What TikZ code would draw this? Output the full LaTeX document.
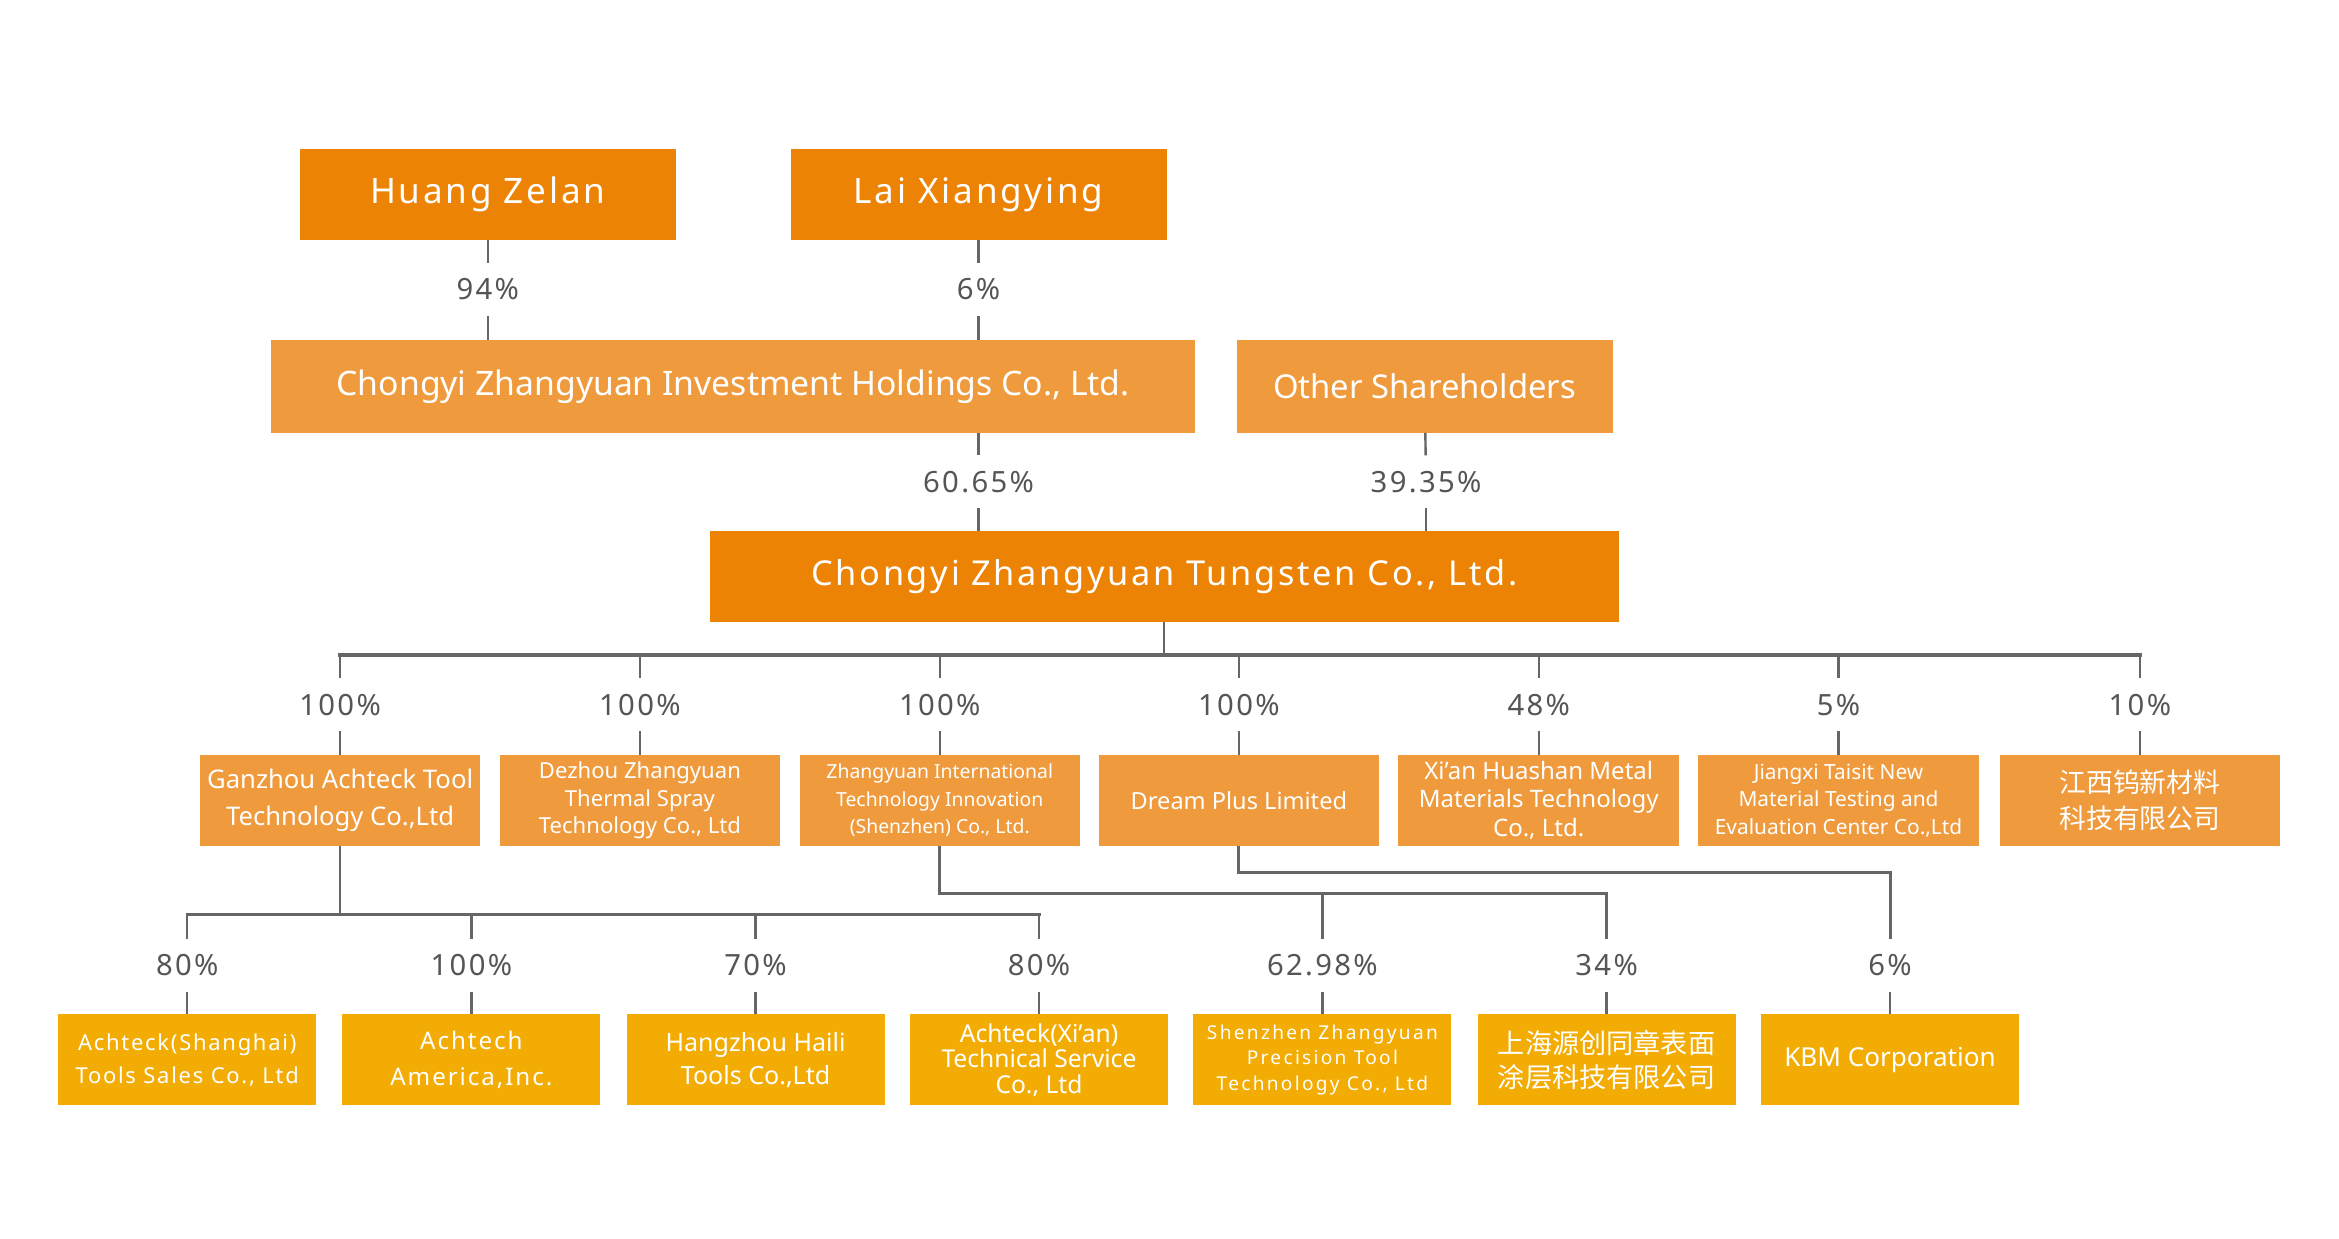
\documentclass[tikz,border=0pt]{standalone}
\usepackage{fontspec}
\setmainfont{Noto Sans}
\newfontfamily\cjk{Noto Sans CJK SC}
\newfontfamily\spaced[LetterSpace=8]{Noto Sans}
\newfontfamily\spacedB[LetterSpace=12]{Noto Sans}
\definecolor{darkor}{HTML}{EC8304}
\definecolor{lightor}{HTML}{EF9A3C}
\definecolor{yellowor}{HTML}{F2AC04}
\definecolor{linegray}{HTML}{666666}
\definecolor{pctgray}{HTML}{555555}
\newcommand{\fs}[2]{\fontsize{#1}{#2}\selectfont}
\begin{document}
\begin{tikzpicture}[x=1pt,y=-1pt,
  basebox/.style={inner sep=0pt, text=white, align=center, minimum height=61},
  boxA/.style={basebox, fill=darkor},
  boxB/.style={basebox, fill=lightor},
  boxC/.style={basebox, fill=yellowor, minimum width=173},
  boxD/.style={boxB, minimum width=188},
  pct/.style={inner sep=0pt, minimum height=35, text=pctgray, font=\spaced\fs{19.6}{22}},
  conn/.style={draw=linegray, line width=1.6},
  bus/.style={draw=linegray, line width=2.2}]
\useasboundingbox (0,0) rectangle (1568,830);
\fill[white] (0,0) rectangle (1568,830);

% Row 1
\node[boxA, minimum width=252, font=\spaced\fs{23.5}{27}] (hz) at (327,130.5) {Huang Zelan};
\node[boxA, minimum width=252, font=\spaced\fs{23.5}{27}] (lx) at (656,130.5) {Lai Xiangying};

% Row 2
\node[boxB, minimum width=619, minimum height=62, font=\fs{22.6}{26}] (inv) at (491.5,259) {Chongyi Zhangyuan Investment Holdings Co., Ltd.};
\node[boxB, minimum width=252, minimum height=62, font=\fs{22}{26}] (oth) at (955,259) {Other Shareholders};

% Row 3
\node[boxA, minimum width=609, font=\spaced\fs{23}{27}] (tung) at (780.5,386.5) {Chongyi Zhangyuan Tungsten Co., Ltd.};

% Labels row 1-2
\node[pct] (p94) at (327,194) {94\%};
\node[pct] (p6a) at (656,194) {6\%};
\draw[conn] (hz) -- (p94);
\draw[conn] (p94) -- (p94 |- inv.north);
\draw[conn] (lx) -- (p6a);
\draw[conn] (p6a) -- (p6a |- inv.north);

% Labels row 2-3
\node[pct] (p6065) at (656,323) {60.65\%};
\node[pct] (p3935) at (956,323) {39.35\%};
\draw[conn] (p6065 |- inv.south) -- (p6065);
\draw[conn] (p6065) -- (p6065 |- tung.north);
\draw[conn] (oth) -- (p3935);
\draw[conn] (p3935) -- (p3935 |- tung.north);

% Row 4 boxes
\node[boxD, font=\fs{17.2}{25}] (gz) at (228,536.5) {Ganzhou Achteck Tool\\Technology Co.,Ltd};
\node[boxD, font=\fs{14.8}{18.5}] (dz) at (429,536.5) {Dezhou Zhangyuan\\Thermal Spray\\Technology Co., Ltd};
\node[boxD, font=\fs{13}{18.5}] (zi) at (630,536.5) {Zhangyuan International\\Technology Innovation\\(Shenzhen) Co., Ltd.};
\node[boxD, font=\fs{15.8}{20}] (dp) at (830.5,536.5) {Dream Plus Limited};
\node[boxD, font=\fs{16.1}{19}] (xa) at (1031.5,536.5) {Xi’an Huashan Metal\\Materials Technology\\Co., Ltd.};
\node[boxD, font=\fs{14}{18.5}] (jx) at (1232.5,536.5) {Jiangxi Taisit New\\Material Testing and\\Evaluation Center Co.,Ltd};
\node[boxD, font=\cjk\fs{18}{24}] (jxw) at (1434.5,536.5) {江西钨新材料\\科技有限公司};

% Bus row 3-4
\coordinate (busL) at (228,439);
\coordinate (busR) at (1435,439);
\draw[conn] (tung) -- (tung.south |- busL);
\draw[bus, line cap=rect] (busL) -- (busR);
\foreach \n/\x/\t in {gz/228/100\%, dz/429/100\%, zi/630/100\%, dp/830.5/100\%, xa/1031.5/48\%, jx/1232.5/5\%, jxw/1434.5/10\%}{
  \node[pct] (l\n) at (\x,472.5) {\t};
  \draw[conn] (l\n |- busL) -- (l\n);
  \draw[conn] (l\n) -- (\n);
}

% Row 5 boxes
\node[boxC, font=\spaced\fs{14.7}{22}] (as) at (125.5,710.5) {Achteck(Shanghai)\\Tools Sales Co., Ltd};
\node[boxC, font=\spaced\fs{16.2}{24}] (aa) at (316,710.5) {Achtech\\America,Inc.};
\node[boxC, font=\fs{16.8}{22}] (hh) at (506.5,710.5) {Hangzhou Haili\\Tools Co.,Ltd};
\node[boxC, font=\fs{16.5}{17}] (ax) at (696.5,710.5) {Achteck(Xi’an)\\Technical Service\\Co., Ltd};
\node[boxC, font=\spacedB\fs{12.8}{17}] (sz) at (886.5,710.5) {Shenzhen Zhangyuan\\Precision Tool\\Technology Co., Ltd};
\node[boxC, font=\cjk\fs{18.2}{23}] (sh) at (1077,710.5) {上海源创同章表面\\涂层科技有限公司};
\node[boxC, font=\fs{17.5}{20}] (kbm) at (1267,710.5) {KBM Corporation};

% Bus row 4-5 (Ganzhou)
\coordinate (bus2L) at (125.5,613);
\coordinate (bus2R) at (696.5,613);
\draw[conn] (gz) -- (gz.south |- bus2L);
\draw[bus, line cap=rect] (bus2L) -- (bus2R);
\foreach \n/\x/\t in {as/125.5/80\%, aa/316/100\%, hh/506.5/70\%, ax/696.5/80\%}{
  \node[pct] (l\n) at (\x,647) {\t};
  \draw[conn] (l\n |- bus2L) -- (l\n);
  \draw[conn] (l\n) -- (\n);
}

% Zhangyuan International branch
\node[pct] (lsz) at (886.5,647) {62.98\%};
\node[pct] (lsh) at (1077,647) {34\%};
\coordinate (ziR) at (1077,599);
\draw[conn, line width=2] (zi.south) |- (ziR) -- (lsh);
\draw[conn] (lsz |- ziR) -- (lsz);
\draw[conn] (lsz) -- (sz);
\draw[conn] (lsh) -- (sh);

% Dream Plus branch
\node[pct] (lkbm) at (1267,647) {6\%};
\coordinate (dpR) at (1267,585);
\draw[conn, line width=2] (dp.south) |- (dpR) -- (lkbm);
\draw[conn] (lkbm) -- (kbm);
\end{tikzpicture}
\end{document}
